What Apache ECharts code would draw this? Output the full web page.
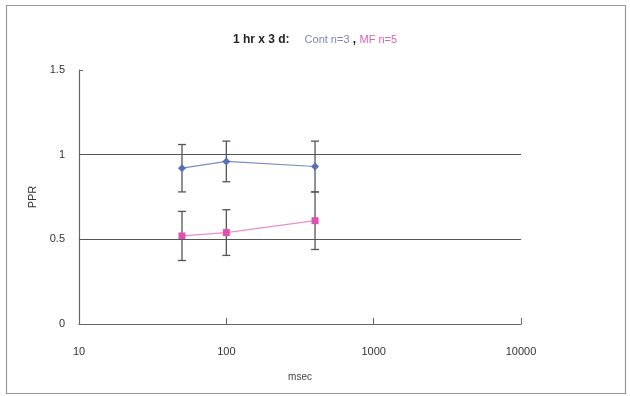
<!DOCTYPE html>
<html><head><meta charset="utf-8">
<script src="https://cdn.jsdelivr.net/npm/echarts@6/dist/echarts.min.js"></script>
<style>html,body{margin:0;padding:0;background:#fff}#c{width:630px;height:396px}</style>
</head><body><div id="c"></div>
<script>
const xValues = [50, 100, 400];
const contMean = [0.92, 0.96, 0.93];
const contErr = [0.14, 0.12, 0.15];
const mfMean = [0.52, 0.54, 0.61];
const mfErr = [0.145, 0.135, 0.17];
const yTicks = [0, 0.5, 1, 1.5];
const refLines = [0.5, 1];

const chart = echarts.init(document.getElementById('c'));
function errSeries(mean, err, name) {
  return {
    type: 'custom', name: name, silent: true, z: 1,
    data: xValues.map((x, i) => [x, mean[i] - err[i], mean[i] + err[i]]),
    renderItem: function (params, api) {
      const lo = api.coord([api.value(0), api.value(1)]);
      const hi = api.coord([api.value(0), api.value(2)]);
      const w = 4;
      const st = {stroke: '#555', lineWidth: 1.3};
      return {type: 'group', children: [
        {type: 'line', shape: {x1: lo[0], y1: lo[1], x2: hi[0], y2: hi[1]}, style: st},
        {type: 'line', shape: {x1: lo[0]-w, y1: lo[1], x2: lo[0]+w, y2: lo[1]}, style: st},
        {type: 'line', shape: {x1: hi[0]-w, y1: hi[1], x2: hi[0]+w, y2: hi[1]}, style: st}
      ]};
    }
  };
}
chart.setOption({
  animation: false,
  backgroundColor: '#fff',
  title: {
    text: '{a|1 hr x 3 d:}   {b|Cont n=3}{a| , }{c|MF n=5}',
    left: 'center', top: 26,
    textStyle: {fontWeight: 'normal', rich: {
      a: {fontFamily: 'Liberation Sans', fontSize: 12, fontWeight: 'bold', color: '#222'},
      b: {fontFamily: 'Liberation Sans', fontSize: 11, fontWeight: 'normal', color: '#7a82c8'},
      c: {fontFamily: 'Liberation Sans', fontSize: 11, fontWeight: 'normal', color: '#e060b8'}
    }}
  },
  graphic: [{type: 'rect', shape: {x: 6.5, y: 5.5, width: 619, height: 388}, style: {fill: 'none', stroke: '#999', lineWidth: 1.2}, silent: true}],
  grid: {left: 79, right: 109, top: 70, bottom: 72},
  xAxis: {
    type: 'log', logBase: 10, min: 10, max: 10000,
    name: 'msec', nameLocation: 'middle', nameGap: 48,
    nameTextStyle: {fontFamily: 'Liberation Sans', fontSize: 10, color: '#444'},
    axisLine: {lineStyle: {color: '#666', width: 1.2}},
    axisTick: {inside: true, length: 6, lineStyle: {color: '#666'}},
    axisLabel: {fontFamily: 'Liberation Sans', fontSize: 11, color: '#333', margin: 22,
      formatter: v => String(Math.round(v))},
    splitLine: {show: false}, minorTick: {show: false}
  },
  yAxis: {
    type: 'value', min: 0, max: 1.5, interval: 0.5,
    name: 'PPR', nameLocation: 'middle', nameGap: 29, nameRotate: 90,
    nameTextStyle: {fontFamily: 'Liberation Sans', fontSize: 11, color: '#333'},
    axisLine: {show: true, lineStyle: {color: '#666', width: 1.2}},
    axisTick: {show: true, inside: true, length: 4, lineStyle: {color: '#666'}},
    axisLabel: {fontFamily: 'Liberation Sans', fontSize: 11, color: '#333', margin: 14,
      formatter: v => yTicks.includes(v) ? String(v) : ''},
    splitLine: {show: false}
  },
  series: [
    errSeries(contMean, contErr, 'contErr'),
    errSeries(mfMean, mfErr, 'mfErr'),
    {type: 'line', name: 'Cont', z: 3, data: xValues.map((x, i) => [x, contMean[i]]),
      symbol: 'diamond', symbolSize: 8, itemStyle: {color: '#5a6fb8'},
      lineStyle: {color: '#7a8cc8', width: 1.2},
      markLine: {silent: true, symbol: 'none', label: {show: false},
        lineStyle: {color: '#555', width: 1.2, type: 'solid'},
        data: refLines.map(v => ({yAxis: v}))}},
    {type: 'line', name: 'MF', z: 3, data: xValues.map((x, i) => [x, mfMean[i]]),
      symbol: 'rect', symbolSize: 7, itemStyle: {color: '#e050b0'},
      lineStyle: {color: '#e890c8', width: 1.2}}
  ]
});
</script></body></html>
